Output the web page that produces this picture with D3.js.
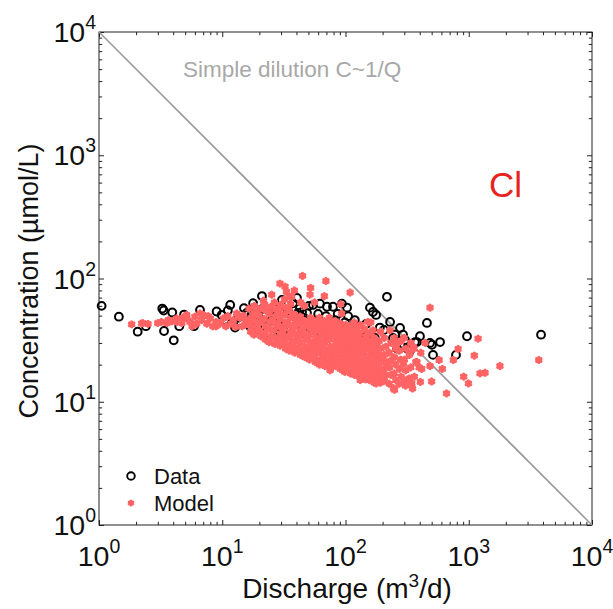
<!DOCTYPE html>
<html><head><meta charset="utf-8">
<script src="https://cdn.jsdelivr.net/npm/d3@7"></script>
<style>
body{margin:0;background:#fff}
svg{display:block}
text{font-family:"Liberation Sans",Arial,Helvetica,sans-serif}
</style>
</head><body>
<svg id="chart" width="613" height="609"></svg>
<script>
// ---------- data ----------
const xDomain = [1, 1e4];
const yDomain = [1, 1e4];
const majorTicks = [1, 10, 100, 1000, 10000];
const tickExponents = ["0", "1", "2", "3", "4"];
const dilutionLine = [[1, 10000], [10000, 1]];

// Observed data: [Discharge m3/d, Concentration umol/L]
const dataPts = [
 [1.05,60],[1.45,49],[2.06,37],[2.4,41],[3.26,57],[3.35,55],[3.37,37.5],[3.93,53],[4.04,31.5],[4.48,41],
 [4.9,51],[5.9,41],[9.0,54],[11.1,55],[12.7,40],[15.8,52.5],[17.8,63],[17.4,51.5],[20.2,46],[25.3,52.5],
 [25.8,58],[30.5,67],[31.1,52.5],[37.5,63],[40.4,69.5],[41.1,52.5],[44.4,53.5],[48.7,52.5],[54.5,61],[70.8,59],
 [79.2,59],[82.2,46],[35.5,38],[99,44],[103,58],[109,40],[124,35],[115,39],[131,33],[144,33],
 [158,58],[167,53.5],[177,50.6],[190,40],[173,33],[167,26],[217,71],[243,33],[252,35],[262,27],
 [293,35],[316,27],[328,27],[366,30.5],[380,30.5],[458,43.6],[485,30],[503,29],[513,24],[333,26],
 [788,24],[968,34],[3860,35],
 [14,44.4],[18.5,38],[22.3,41],[29.4,36.8],[51.5,40],[62,37],[42.7,35],[75,38],[32.4,46],[10.5,46],
 [7.3,48],[6.6,55.5],[11.6,61],[21,72],
 [9.9,50.6],[13.4,48],[15,57.5],[19.5,49.5],[21,56.5],[23.5,44.4],[27.3,49.5],[29,41],[34.2,54.5],[36.8,44.4],
 [39.7,38.2],[46,48],[50.5,60],[53.3,44.4],[60,51.5],[64.5,41],[69.5,49.5],[74.9,44.4],[86.5,51.5],[90,39.7],
 [105,49.5],[119,46],[136,38.2],[147,42.8],[205,38.2],[230,44.4],[277,39.7],[304,31.7],[402,34],[585,30.5],
 [24.4,36],[16.8,41],[32.3,34.8],[42.7,57.6],[62,62.5],[93.5,62.5]
];

// Model output: [Discharge m3/d, Concentration umol/L]
const modelPts = [
 [1.84,42.5],[2.22,43.2],[2.27,43.5],[2.5,42.8],[3.0,43.5],[3.2,44.5],[3.56,43.5],[3.65,46],[3.88,45],[4.27,44.5],
 [4.27,47.5],[4.7,43.5],[4.8,48],[5.15,47.5],[5.47,44.5],[5.15,50.6],[5.7,41],[6.0,49],[6.2,43],[6.6,52],
 [6.8,46],[7.0,50.6],[7.5,43],[7.7,49.5],[8.0,47.5],[8.4,41],[8.9,44.5],[8.9,41],[9.6,43],[10.2,47.5],
 [10.7,41],[11.1,49.5],[12.3,46],[13.1,52],[13.9,48],[14.5,41],[15.8,43],[16.8,46],[17.8,50.6],[18.4,39.5],
 [11.8,43],[12.8,40.5],[14.8,50],[15.5,46.5],
 [21.6,66],[25.2,74],[29.4,91],[32.3,86],[33.2,78],[36.6,71],[44.8,105],[51.5,74],[69.4,95.5],[109,77],[93,52],[35.5,71],
 [16.5,57],[17.2,48],[16.6,42],[17.0,37],
 [18.2,60],[18.7,53],[18.3,45],[18.6,40],[18.1,35],
 [20.5,57],[19.9,50],[20.4,44],[20.0,38],[20.6,34],
 [22.0,62],[22.6,55],[21.9,47],[22.5,41],[22.1,36],[22.4,32],
 [24.8,59],[24.1,52],[24.6,45],[24.2,39],[24.7,34],[24.0,30.5],
 [26.5,64],[27.2,56],[26.6,49],[27.0,43],[26.4,38],[27.1,33],[26.7,29.5],
 [29.8,61],[29.0,54],[29.6,47],[29.2,41],[29.9,36],[29.1,32],[29.5,28.5],
 [32.0,68],[32.8,58],[32.1,51],[32.6,44],[31.9,39],[32.5,34],[32.2,30],[32.7,27],
 [35.9,62],[35.1,55],[35.7,48],[35.2,42],[36.0,37],[35.3,33],[35.8,29],[35.0,26],
 [38.5,80],[38.6,51],[39.2,45],[38.4,40],[39.4,35],[38.7,31],[39.1,27.5],[38.8,25],
 [43.2,64],[43.0,49],[42.4,43],[43.3,38],[42.1,33.5],[42.9,30],[42.5,26.5],[43.1,24],
 [46.3,60],[46.5,45],[47.2,41],[46.2,36],[47.5,32],[46.6,28],[47.1,25],[46.8,23],
 [52.1,84],[52.0,48],[51.1,43],[52.3,39],[50.8,34.5],[51.9,30.5],[51.2,27],[52.2,24],[51.0,22],
 [56.0,64],[56.2,45],[57.0,41],[55.9,37],[57.4,33],[56.4,29],[57.1,26],[56.1,23],[56.9,21],
 [61.4,48],[62.6,43],[61.6,39],[63.0,35],[61.3,31],[62.5,27.5],[61.8,25],[62.9,22],[61.5,20],
 [67.4,72],[67.6,45],[68.8,41],[67.3,37],[69.1,33.5],[67.8,30],[68.6,26.5],[67.5,23.5],[68.9,21],[68.0,19.5],
 [74.0,48],[75.6,43],[74.3,39],[75.9,35],[74.1,32],[75.4,28],[74.5,25],[75.7,22.5],[74.2,20],[75.3,18.5],
 [83.2,45],[81.5,41],[83.0,37],[81.1,34],[83.4,30],[81.8,27],[82.8,24],[81.4,21.5],[83.1,19.5],
 [91.3,62],[91.0,43],[89.4,39],[91.5,35],[89.0,32],[90.8,29],[89.6,26],[91.2,23],[89.3,20.5],[90.6,18.5],
 [100.3,42],[98.1,38],[100.0,35],[97.6,32],[100.5,29],[98.4,26.5],[99.8,24],[97.9,21.5],[100.2,19.5],[98.6,17.5],
 [107.6,41],[110.1,37],[107.9,33.5],[110.6,30.5],[107.5,27.5],[109.8,25],[108.2,22.5],[110.3,20.5],[107.8,18.5],[109.5,17],
 [117.5,44],[120.6,38],[117.8,34],[120.3,31],[117.4,28],[120.8,25.5],[118.1,23],[120.0,21],[117.7,19],[120.5,17.5],[118.3,16.5],
 [132.8,42],[129.3,36],[132.4,32],[129.6,29],[133.0,26.5],[129.1,24],[132.1,21.5],[129.9,19.5],[132.6,17.5],[129.4,16],[131.8,15],
 [142.1,39],[146.0,34],[142.5,30.5],[145.6,27.5],[141.9,25],[146.2,22.5],[142.8,20],[145.3,18],[142.3,16.5],[145.8,15.2],
 [160.2,44],[155.9,36],[159.8,31],[156.3,28],[160.5,25],[155.7,22.5],[159.4,20.5],[156.6,18.5],[160.0,16.5],[156.1,15],
 [170.6,33],[175.4,29],[171.0,26],[175.0,23.5],[170.4,21],[175.7,19],[171.5,17],[174.6,15.5],[170.8,14.3],
 [192.6,37],[187.4,31],[192.2,27],[187.9,24],[193.0,21.5],[187.2,19.5],[191.6,17.5],[188.4,15.8],[192.4,14.3],
 [206.1,33],[211.9,28],[206.6,24],[211.4,21],[205.8,18.5],[212.2,16.5],[207.2,14.8],
 [233.2,30],[226.9,25],[232.6,21.5],[227.5,19],[233.6,16.5],[226.6,14],
 [248.5,33],[255.6,27],[249.1,23],[255.0,20],[248.2,17],[256.0,15],[249.8,12.5],
 [281,31],[273,26],[280,22],[274,18.5],[282,16],[272,14],
 [299,33],[309,27],[300,22],[308,18],[301,15],[307,13.5],
 [339,30],[329,24],[338,19],[330,15.5],
 [360,27],[372,21],[362,16],
 [408,25],[396,19],[405,14.5],
 [485,58],[1190,32.5],[820,26.8],[1110,23.7],[750,21.8],[575,21.8],[610,18.5],[1790,19.5],[1234,17],[1355,17.2],
 [910,16],[995,14.1],[660,11.7],[500,14.6],[442,30],[354,28],[380,21],[485,19.5],[415,18.5],[345,14.1],
 [350,12.8],[3700,21.8],[245,12.9],[178,14.1],[131,16],[96,18],[75,18],[58,21.8],[152,44.5],[123,40.5],
 [260,29.8],[230,38],[167,38],[295,20.5],[334,24.8]
];

const legendLabels = ["Data", "Model"];
const xTitle = ["Discharge (m", "3", "/d)"];
const yTitle = "Concentration (µmol/L)";
const dilutionLabel = "Simple dilution C~1/Q";
const elementLabel = "Cl";

// ---------- layout ----------
const L = 99, T = 32, R = 592, B = 525;
const svg = d3.select("#chart");
const x = d3.scaleLog().domain(xDomain).range([L, R]);
const y = d3.scaleLog().domain(yDomain).range([B, T]);

const axisColor = "#222";
const red = "#ff6363";

const minorX = x.ticks().filter(v => !majorTicks.includes(v));
const minorY = y.ticks().filter(v => !majorTicks.includes(v));

function drawAxis(gen, ticks, size, transform) {
  const g = svg.append("g").attr("transform", transform)
    .call(gen.tickValues(ticks).tickSize(size).tickSizeOuter(0).tickFormat(""));
  g.select(".domain").remove();
  g.selectAll("line").attr("stroke", axisColor).attr("stroke-width", 1);
  return g;
}
const MJ = 5, MN = 3.2;
drawAxis(d3.axisBottom(x), majorTicks, -MJ, `translate(0,${B})`);
drawAxis(d3.axisBottom(x), minorX, -MN, `translate(0,${B})`);
drawAxis(d3.axisTop(x), majorTicks, -MJ, `translate(0,${T})`);
drawAxis(d3.axisTop(x), minorX, -MN, `translate(0,${T})`);
drawAxis(d3.axisLeft(y), majorTicks, -MJ, `translate(${L},0)`);
drawAxis(d3.axisLeft(y), minorY, -MN, `translate(${L},0)`);
drawAxis(d3.axisRight(y), majorTicks, -MJ, `translate(${R},0)`);
drawAxis(d3.axisRight(y), minorY, -MN, `translate(${R},0)`);

svg.append("rect").attr("x", L).attr("y", T).attr("width", R - L).attr("height", B - T)
  .attr("fill", "none").attr("stroke", axisColor).attr("stroke-width", 1);

// tick labels
majorTicks.forEach((v, i) => {
  const tx = svg.append("text").attr("x", x(v)).attr("y", 566)
    .attr("text-anchor", "middle").attr("fill", "#111");
  tx.append("tspan").attr("font-size", 28.5).text("10");
  tx.append("tspan").attr("font-size", 19.5).attr("dy", -13).text(tickExponents[i]);

  const ty = svg.append("text").attr("x", 96).attr("y", y(v) + 10)
    .attr("text-anchor", "end").attr("fill", "#111");
  ty.append("tspan").attr("font-size", 28.5).text("10");
  ty.append("tspan").attr("font-size", 19.5).attr("dy", -13).text(tickExponents[i]);
});

// axis titles
const xt = svg.append("text").attr("x", 347).attr("y", 598)
  .attr("text-anchor", "middle").attr("font-size", 28).attr("fill", "#111");
xt.append("tspan").text(xTitle[0]);
xt.append("tspan").attr("font-size", 19).attr("dy", -11).text(xTitle[1]);
xt.append("tspan").attr("dy", 11).text(xTitle[2]);

svg.append("text").attr("transform", `translate(38,281) rotate(-90)`)
  .attr("text-anchor", "middle").attr("font-size", 27).attr("fill", "#111").text(yTitle);

// dilution line
svg.append("path")
  .attr("d", d3.line().x(d => x(d[0])).y(d => y(d[1]))(dilutionLine))
  .attr("stroke", "#999").attr("stroke-width", 1.6).attr("fill", "none");

svg.append("text").attr("x", 183).attr("y", 77).attr("font-size", 22.5)
  .attr("fill", "#a8a8a8").text(dilutionLabel);
svg.append("text").attr("x", 489).attr("y", 197).attr("font-size", 35)
  .attr("fill", "#e8231c").text(elementLabel);

// markers
const sym = d3.symbolAsterisk || d3.symbolCross;
const modelSymbol = d3.symbol().type(sym).size(18);

svg.append("g").selectAll("circle").data(dataPts).join("circle")
  .attr("cx", d => x(d[0])).attr("cy", d => y(d[1])).attr("r", 3.9)
  .attr("fill", "none").attr("stroke", "#000").attr("stroke-width", 2);

svg.append("g").selectAll("path").data(modelPts).join("path")
  .attr("transform", d => `translate(${x(d[0])},${y(d[1])})`)
  .attr("d", modelSymbol)
  .attr("fill", red).attr("stroke", red).attr("stroke-width", 3.2)
  .attr("stroke-linecap", "round").attr("stroke-linejoin", "round");

// legend
svg.append("circle").attr("cx", 131).attr("cy", 476).attr("r", 3.8)
  .attr("fill", "none").attr("stroke", "#000").attr("stroke-width", 1.9);
svg.append("path").attr("transform", "translate(131,503)").attr("d", d3.symbol().type(sym).size(12))
  .attr("fill", red).attr("stroke", red).attr("stroke-width", 3).attr("stroke-linecap", "round");
svg.append("text").attr("x", 154).attr("y", 484).attr("font-size", 22).attr("fill", "#111").text(legendLabels[0]);
svg.append("text").attr("x", 154).attr("y", 511).attr("font-size", 22).attr("fill", "#111").text(legendLabels[1]);
</script>
</body></html>
